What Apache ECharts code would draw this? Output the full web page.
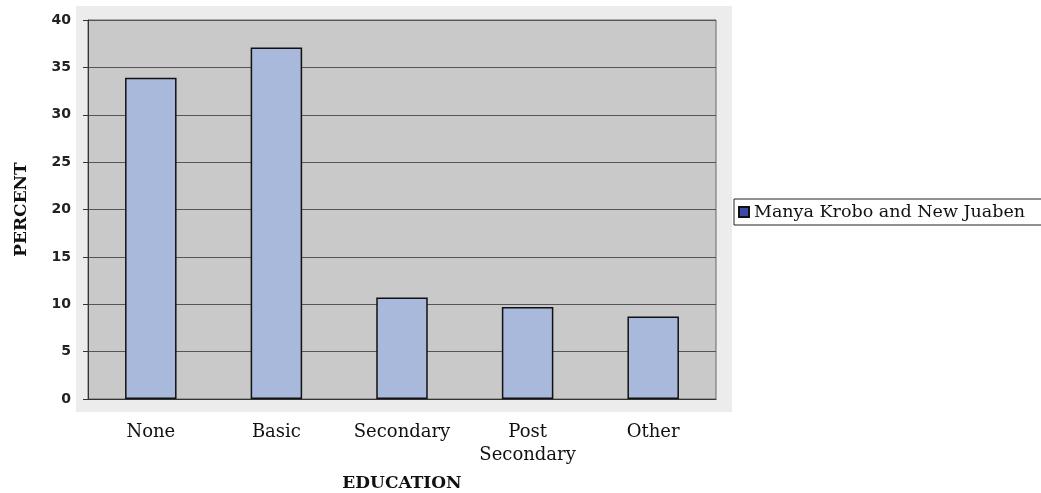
<!DOCTYPE html>
<html>
<head>
    <meta charset="UTF-8">
    <title>Education</title>
    <script src="https://cdn.jsdelivr.net/npm/echarts@6/dist/echarts.min.js"></script>
    <style>
        body { margin: 0; padding: 0; background: #fff; }
        #main { width: 1041px; height: 493px; }
    </style>
</head>
<body>
    <div id="main"></div>
    <script>
        // data
        var categories = ['None', 'Basic', 'Secondary', 'Post\nSecondary', 'Other'];
        var seriesName = 'Manya Krobo and New Juaben';
        var percent = [33.9, 37.1, 10.7, 9.7, 8.7];

        var chart = echarts.init(document.getElementById('main'));

        var option = {
            backgroundColor: '#fff',
            animation: false,
            graphic: [
                {
                    // faint shadow around the plot
                    type: 'rect',
                    z: -10,
                    shape: { x: 76, y: 6, width: 656, height: 406 },
                    style: { fill: '#ececec' }
                }
            ],
            grid: {
                left: 88,
                top: 20,
                right: 325,
                bottom: 94,
                outerBoundsMode: 'none',
                show: true,
                backgroundColor: '#c9c9c9',
                borderColor: '#666',
                borderWidth: 1
            },
            legend: {
                data: [seriesName],
                left: 734,
                top: 199,
                icon: 'rect',
                itemWidth: 10,
                itemHeight: 10,
                itemGap: 4,
                padding: [4, 40, 4, 4],
                borderColor: '#222',
                borderWidth: 1,
                textStyle: {
                    fontFamily: 'DejaVu Serif',
                    fontSize: 17.5,
                    color: '#111'
                },
                itemStyle: { color: '#3d48a8' }
            },
            xAxis: {
                type: 'category',
                data: categories,
                name: 'EDUCATION',
                nameLocation: 'middle',
                nameGap: 76,
                nameTextStyle: {
                    fontFamily: 'DejaVu Serif',
                    fontWeight: 'bold',
                    fontSize: 17,
                    color: '#111'
                },
                axisLine: { lineStyle: { color: '#333' } },
                axisTick: { show: false },
                axisLabel: {
                    margin: 22,
                    fontFamily: 'DejaVu Serif',
                    fontSize: 18,
                    lineHeight: 23,
                    color: '#111'
                }
            },
            yAxis: {
                type: 'value',
                min: 0,
                max: 40,
                interval: 5,
                name: 'PERCENT',
                nameLocation: 'middle',
                nameGap: 58,
                nameTextStyle: {
                    fontFamily: 'DejaVu Serif',
                    fontWeight: 'bold',
                    fontSize: 17,
                    color: '#111'
                },
                axisLine: { show: true, lineStyle: { color: '#333' } },
                axisTick: { show: true, length: 5, lineStyle: { color: '#333' } },
                axisLabel: {
                    margin: 17,
                    fontFamily: 'DejaVu Sans',
                    fontWeight: 'bold',
                    fontSize: 14,
                    color: '#222'
                },
                splitLine: { lineStyle: { color: '#555', width: 1 } }
            },
            series: [
                {
                    name: seriesName,
                    type: 'bar',
                    data: percent,
                    barWidth: '41%',
                    itemStyle: {
                        color: '#a8b9dc',
                        borderColor: '#111',
                        borderWidth: 1.5
                    }
                }
            ]
        };

        chart.setOption(option);
    </script>
</body>
</html>
